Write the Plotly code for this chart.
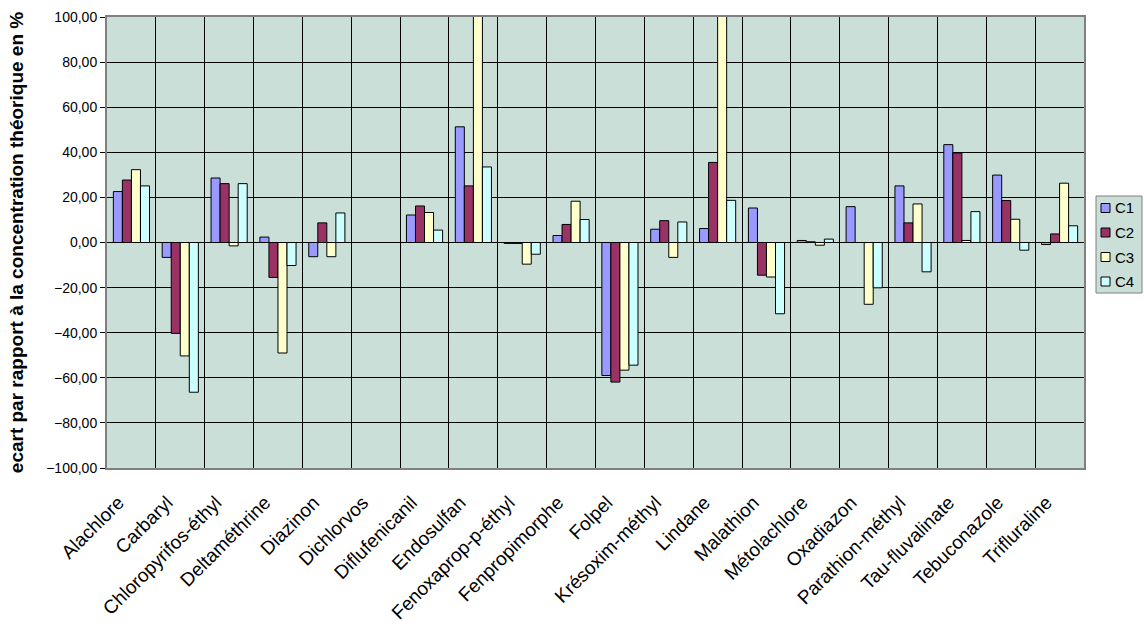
import plotly.graph_objects as go

# Substances analysed
substances = [
    "Alachlore", "Carbaryl", "Chloropyrifos-éthyl", "Deltaméthrine", "Diazinon",
    "Dichlorvos", "Diflufenicanil", "Endosulfan", "Fenoxaprop-p-éthyl", "Fenpropimorphe",
    "Folpel", "Krésoxim-méthyl", "Lindane", "Malathion", "Métolachlore",
    "Oxadiazon", "Parathion-méthyl", "Tau-fluvalinate", "Tebuconazole", "Trifluraline",
]

# Deviation from the theoretical concentration (%) for each concentration level
c1 = [22.6, -6.6, 28.6, 2.4, -6.3, None, 12.2, 51.3, -0.4, 3.1,
      -59.0, 5.9, 6.2, 15.3, 0.9, 15.9, 25.1, 43.4, 29.9, -0.9]
c2 = [27.7, -40.3, 26.1, -15.5, 8.7, None, 16.2, 25.1, -0.4, 8.0,
      -61.9, 9.7, 35.5, -14.5, 0.3, None, 8.7, 39.7, 18.6, 3.8]
c3 = [32.3, -50.3, -1.5, -49.0, -6.3, None, 13.3, 121.0, -9.6, 18.3,
      -56.6, -6.6, 118.0, -15.3, -1.2, -27.4, 17.1, 0.9, 10.3, 26.3]
c4 = [25.1, -66.4, 26.1, -10.2, 13.1, None, 5.5, 33.5, -5.2, 10.2,
      -54.4, 9.1, 18.7, -31.6, 1.5, -20.1, -13.0, 13.7, -3.4, 7.4]

series_names = ["C1", "C2", "C3", "C4"]
series_values = [c1, c2, c3, c4]
series_colors = ["#9999FF", "#993366", "#FFFFCC", "#CCFFFF"]

y_ticks = list(range(-100, 101, 20))

W, H = 1144, 626
M_L, M_R, M_T, M_B = 107, 60, 17, 158
PLOT_W = W - M_L - M_R
PLOT_H = H - M_T - M_B

font_family = "Liberation Sans, Arial, sans-serif"
bg = "#C9DFD7"

fig = go.Figure()
for name, vals, color in zip(series_names, series_values, series_colors):
    fig.add_trace(go.Bar(
        x=substances, y=vals, name=name,
        marker=dict(color=color, line=dict(color="#000000", width=1)),
    ))


def px_x(p):
    return (p - M_L) / PLOT_W


def px_y(p):
    return (H - M_B - p) / PLOT_H


# Boxed legend to the right of the plot area
shapes = [dict(type="rect", xref="paper", yref="paper",
               x0=px_x(1096), x1=px_x(1142), y0=px_y(293), y1=px_y(196),
               fillcolor=bg, line=dict(color="#808080", width=1), layer="above")]
annotations = []
for i, (name, color) in enumerate(zip(series_names, series_colors)):
    cy = 208 + i * 24.5
    shapes.append(dict(type="rect", xref="paper", yref="paper",
                       x0=px_x(1101), x1=px_x(1110), y0=px_y(cy + 4.5), y1=px_y(cy - 4.5),
                       fillcolor=color, line=dict(color="#000000", width=1), layer="above"))
    annotations.append(dict(xref="paper", yref="paper", x=px_x(1113), y=px_y(cy),
                            xanchor="left", yanchor="middle", showarrow=False,
                            text=name, font=dict(size=15, color="black")))

fig.update_layout(
    width=W, height=H,
    margin=dict(l=M_L, r=M_R, t=M_T, b=M_B, autoexpand=False),
    paper_bgcolor="white",
    plot_bgcolor=bg,
    barmode="group",
    bargap=0.26,
    bargroupgap=0,
    separators=", ",
    font=dict(family=font_family, size=12, color="black"),
    showlegend=False,
    shapes=shapes,
    annotations=annotations,
    xaxis=dict(
        type="category",
        tickson="boundaries",
        showgrid=True, gridcolor="#000000", gridwidth=1,
        tickangle=-45,
        tickfont=dict(size=19),
        ticklabelstandoff=14,
        ticklabelshift=-13,
        ticks="", showline=True, linecolor="#808080", linewidth=2, mirror=True,
    ),
    yaxis=dict(
        range=[-100, 100],
        tickvals=y_ticks,
        tickformat=".2f",
        showgrid=True, gridcolor="#000000", gridwidth=1,
        zeroline=True, zerolinecolor="#000000", zerolinewidth=1,
        ticks="outside", ticklen=5, tickcolor="#000000",
        tickfont=dict(size=14),
        showline=True, linecolor="#808080", linewidth=2, mirror=True,
        title=dict(text="<b>ecart par rapport à la concentration théorique en %</b>",
                   font=dict(size=19), standoff=18),
    ),
)

fig.write_html("out.html")
